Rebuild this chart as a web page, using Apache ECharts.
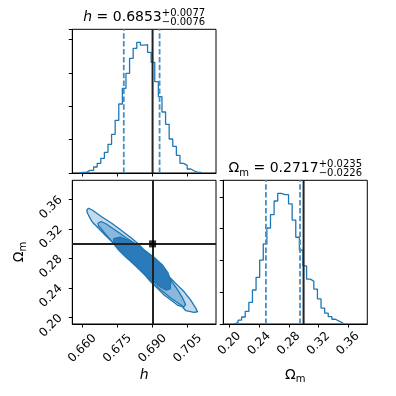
<!DOCTYPE html>
<html>
<head>
<meta charset="utf-8">
<script src="https://cdn.jsdelivr.net/npm/echarts@6/dist/echarts.min.js"></script>
<style>
html, body { margin: 0; padding: 0; background: #fff; }
#chart { width: 396px; height: 396px; }
</style>
</head>
<body>
<div id="chart"></div>
<script>
// values
const hTruth = 0.69;
const omTruth = 0.30;
const hMedian = 0.6853, hMinus = 0.0076, hPlus = 0.0077;
const omMedian = 0.2717, omMinus = 0.0226, omPlus = 0.0235;

const hRange = [0.6557, 0.7171];
const omRange = [0.1915, 0.3861];
const hTicks = [0.660, 0.675, 0.690, 0.705];
const omTicks = [0.20, 0.24, 0.28, 0.32, 0.36];

// histograms (regular bins)
const hBinStart = 0.65864, hBinWidth = 0.001538;
const hCounts = [2, 2, 8, 8, 18, 29, 44, 62, 86, 116, 158, 207, 254, 299, 344, 374, 392,
  384, 385, 362, 332, 274, 229, 183, 146, 102, 80, 53, 29, 23, 12, 6, 2, 2];
const omBinStart = 0.2065, omBinWidth = 0.004878;
const omCounts = [5, 12, 22, 40, 68, 107, 147, 201, 252, 302, 344, 387, 411, 407, 407, 378,
  327, 273, 232, 183, 141, 135, 110, 79, 50, 34, 23, 15, 9, 4];

// 2d contours, [h, Omega_m] pairs
const outerContour = [
  [0.6620, 0.3465], [0.6627, 0.3482], [0.6644, 0.3455], [0.6663, 0.3411], [0.6684, 0.3365],
  [0.6706, 0.3320], [0.6727, 0.3276], [0.6756, 0.3208], [0.6784, 0.3141], [0.6812, 0.3073],
  [0.6841, 0.2996], [0.6864, 0.2915], [0.6892, 0.2803], [0.6921, 0.2712], [0.6949, 0.2622],
  [0.6978, 0.2532], [0.7006, 0.2442], [0.7035, 0.2351], [0.7063, 0.2239], [0.7085, 0.2127],
  [0.7092, 0.2081], [0.7077, 0.2073], [0.7042, 0.2095], [0.7027, 0.2149], [0.7006, 0.2172],
  [0.6978, 0.2239], [0.6949, 0.2307], [0.6921, 0.2397], [0.6892, 0.2487], [0.6864, 0.2591],
  [0.6848, 0.2645], [0.6827, 0.2712], [0.6798, 0.2803], [0.6770, 0.2892], [0.6741, 0.2982],
  [0.6720, 0.3050], [0.6698, 0.3118], [0.6677, 0.3185], [0.6656, 0.3253], [0.6642, 0.3297],
  [0.6630, 0.3365], [0.6620, 0.3428]
];
const midContour = [
  [0.6667, 0.3280], [0.6680, 0.3303], [0.6701, 0.3273], [0.6727, 0.3215], [0.6757, 0.3151],
  [0.6787, 0.3084], [0.6817, 0.3023], [0.6847, 0.2955], [0.6877, 0.2874], [0.6906, 0.2773],
  [0.6941, 0.2658], [0.6975, 0.2523], [0.7005, 0.2388], [0.7026, 0.2280], [0.7041, 0.2178],
  [0.7033, 0.2145], [0.7009, 0.2199], [0.6975, 0.2273], [0.6941, 0.2361], [0.6906, 0.2455],
  [0.6877, 0.2550], [0.6847, 0.2645], [0.6817, 0.2739], [0.6787, 0.2834], [0.6757, 0.2928],
  [0.6727, 0.3030], [0.6701, 0.3124], [0.6680, 0.3205], [0.6669, 0.3246]
];
const innerContour = [
  [0.6734, 0.3072], [0.6761, 0.3090], [0.6795, 0.3050], [0.6838, 0.2975], [0.6872, 0.2901],
  [0.6906, 0.2820], [0.6941, 0.2719], [0.6966, 0.2606], [0.6978, 0.2490], [0.6975, 0.2390],
  [0.6956, 0.2375], [0.6922, 0.2442], [0.6887, 0.2530], [0.6853, 0.2625], [0.6819, 0.2726],
  [0.6785, 0.2821], [0.6755, 0.2915], [0.6734, 0.3000]
];

const BLUE = '#1f77b4';
const FONT = '"DejaVu Sans"';
const TICK_FONT = 12;

const measureCtx = document.createElement('canvas').getContext('2d');
function textWidth(str, size, italic) {
  measureCtx.font = (italic ? 'italic ' : '') + size + 'px ' + FONT;
  return measureCtx.measureText(str).width;
}

function stepData(start, width, counts) {
  const pts = [[start, 0]];
  counts.forEach((c, i) => pts.push([start + i * width, c]));
  const end = start + counts.length * width;
  pts.push([end, counts[counts.length - 1]]);
  pts.push([end, 0]);
  return pts;
}

function txt(text, x, baseDy, size, italic) {
  return {
    type: 'text', x: x, y: baseDy - 0.36 * size,
    style: {
      text: text, fill: '#000', textAlign: 'left', textVerticalAlign: 'middle',
      font: (italic ? 'italic ' : '') + size + 'px ' + FONT
    }
  };
}

// lays out a row of text pieces (with stacked sup/sub) centred on 0
function mathGroup(segs, cx, baseline, rotation) {
  let x = 0;
  const children = [];
  segs.forEach(s => {
    if (s.stack) {
      const w = Math.max(textWidth(s.stack[0], s.size), textWidth(s.stack[1], s.size));
      children.push(txt(s.stack[0], x, s.supDy, s.size));
      children.push(txt(s.stack[1], x, s.subDy, s.size));
      x += w;
    } else {
      children.push(txt(s.text, x, s.dy || 0, s.size, s.italic));
      x += textWidth(s.text, s.size, s.italic);
    }
  });
  children.forEach(c => { c.x -= x / 2; });
  return { type: 'group', x: cx, y: baseline, rotation: rotation || 0, children: children, silent: true };
}

// rotated tick label, box centred on (x, y) like matplotlib's rotated labels
function tickLabel(str, x, y) {
  return {
    type: 'text', x: x, y: y, rotation: Math.PI / 4, silent: true,
    style: {
      text: str, fill: '#000', textAlign: 'center', textVerticalAlign: 'middle',
      font: TICK_FONT + 'px ' + FONT
    }
  };
}

function xAxisDef(grid, range, ticks) {
  return {
    gridIndex: grid, type: 'value', min: range[0], max: range[1],
    axisLine: { show: true, onZero: false, lineStyle: { color: '#000', width: 1 } },
    axisTick: { show: true, inside: false, length: 3.5, customValues: ticks, lineStyle: { color: '#000', width: 1 } },
    axisLabel: { show: false },
    splitLine: { show: false }
  };
}

function histYAxis(grid, counts) {
  return {
    gridIndex: grid, type: 'value', min: 0, max: 1.1 * Math.max(...counts), interval: 100,
    axisLine: { show: true, lineStyle: { color: '#000', width: 1 } },
    axisTick: { show: true, inside: false, length: 3.5, lineStyle: { color: '#000', width: 1 } },
    axisLabel: { show: false },
    splitLine: { show: false }
  };
}

function contourSeries(points, fill) {
  return {
    type: 'custom', xAxisIndex: 1, yAxisIndex: 1, silent: true, clip: true,
    data: [points[0]],
    renderItem: (params, api) => ({
      type: 'polygon',
      shape: { points: points.map(p => api.coord(p)) },
      style: { fill: fill, stroke: BLUE, lineWidth: 1.3, lineJoin: 'round' }
    })
  };
}

const dashed = { color: '#4690c9', width: 1.8, type: [5.5, 2.4] };
const truthStyle = { color: '#222', width: 2, type: 'solid' };

function vLine(axis, x, top, style) {
  return {
    type: 'line', xAxisIndex: axis, yAxisIndex: axis, silent: true, symbol: 'none', z: 3,
    data: [[x, 0], [x, top]], lineStyle: Object.assign({}, style)
  };
}

const hTop = 1.1 * Math.max(...hCounts);
const omTop = 1.1 * Math.max(...omCounts);
const gridStyle = { show: true, borderColor: '#000', borderWidth: 1, backgroundColor: 'transparent' };

const option = {
  animation: false,
  grid: [
    Object.assign({ left: 72.3, top: 29.3, width: 143.7, height: 143.7 }, gridStyle),
    Object.assign({ left: 72.3, top: 180.3, width: 143.7, height: 143.7 }, gridStyle),
    Object.assign({ left: 223.3, top: 180.3, width: 144, height: 143.7 }, gridStyle)
  ],
  xAxis: [
    xAxisDef(0, hRange, hTicks),
    xAxisDef(1, hRange, hTicks),
    xAxisDef(2, omRange, omTicks)
  ],
  yAxis: [
    histYAxis(0, hCounts),
    {
      gridIndex: 1, type: 'value', min: omRange[0], max: omRange[1],
      axisLine: { show: true, onZero: false, lineStyle: { color: '#000', width: 1 } },
      axisTick: { show: true, inside: false, length: 3.5, customValues: omTicks, lineStyle: { color: '#000', width: 1 } },
      axisLabel: { show: false },
      splitLine: { show: false }
    },
    histYAxis(2, omCounts)
  ],
  series: [
    {
      type: 'line', xAxisIndex: 0, yAxisIndex: 0, step: 'end', symbol: 'none', silent: true,
      data: stepData(hBinStart, hBinWidth, hCounts),
      lineStyle: { color: BLUE, width: 1.3 }
    },
    vLine(0, hMedian - hMinus, hTop, dashed),
    vLine(0, hMedian + hPlus, hTop, dashed),
    vLine(0, hTruth, hTop, truthStyle),
    contourSeries(outerContour, '#c3d9ec'),
    contourSeries(midContour, '#8ab8dc'),
    contourSeries(innerContour, '#2b7bba'),
    {
      type: 'scatter', xAxisIndex: 1, yAxisIndex: 1, silent: true, z: 10,
      data: [[hTruth, omTruth]], symbol: 'rect', symbolSize: 7,
      itemStyle: { color: '#000' },
      markLine: {
        silent: true, symbol: ['none', 'none'], label: { show: false },
        data: [
          { xAxis: hTruth, lineStyle: Object.assign({}, truthStyle) },
          { yAxis: omTruth, lineStyle: Object.assign({}, truthStyle) }
        ]
      }
    },
    {
      type: 'line', xAxisIndex: 2, yAxisIndex: 2, step: 'end', symbol: 'none', silent: true,
      data: stepData(omBinStart, omBinWidth, omCounts),
      lineStyle: { color: BLUE, width: 1.3 }
    },
    vLine(2, omMedian - omMinus, omTop, dashed),
    vLine(2, omMedian + omPlus, omTop, dashed),
    vLine(2, omTruth, omTop, truthStyle)
  ]
};

const chart = echarts.init(document.getElementById('chart'), null, { renderer: 'canvas' });
chart.setOption(option);

// titles, axis names and rotated tick labels placed from the axes' own scales
const graphics = [
  mathGroup([
    { text: 'h', size: 14, italic: true },
    { text: ' = ' + hMedian.toFixed(4), size: 14 },
    { stack: ['+' + hPlus.toFixed(4), '\u2212' + hMinus.toFixed(4)], size: 10, supDy: -5.3, subDy: 3.4 }
  ], 144.2, 22.6),
  mathGroup([
    { text: '\u03a9', size: 14 },
    { text: 'm', size: 10, dy: 3 },
    { text: ' = ' + omMedian.toFixed(4), size: 14 },
    { stack: ['+' + omPlus.toFixed(4), '\u2212' + omMinus.toFixed(4)], size: 10, supDy: -5.3, subDy: 3.4 }
  ], 295.3, 173.6),
  mathGroup([{ text: 'h', size: 14, italic: true }], 144.2, 380),
  mathGroup([{ text: '\u03a9', size: 14 }, { text: 'm', size: 10, dy: 3 }], 295.3, 380),
  mathGroup([{ text: '\u03a9', size: 14 }, { text: 'm', size: 10, dy: 3 }], 24, 252, Math.PI / 2)
];
hTicks.forEach(v => {
  graphics.push(tickLabel(v.toFixed(3), chart.convertToPixel({ xAxisIndex: 1 }, v), 348.5));
});
omTicks.forEach(v => {
  graphics.push(tickLabel(v.toFixed(2), chart.convertToPixel({ xAxisIndex: 2 }, v), 343.5));
  graphics.push(tickLabel(v.toFixed(2), 51, chart.convertToPixel({ yAxisIndex: 1 }, v) + 8));
});
chart.setOption({ graphic: graphics });
</script>
</body>
</html>
